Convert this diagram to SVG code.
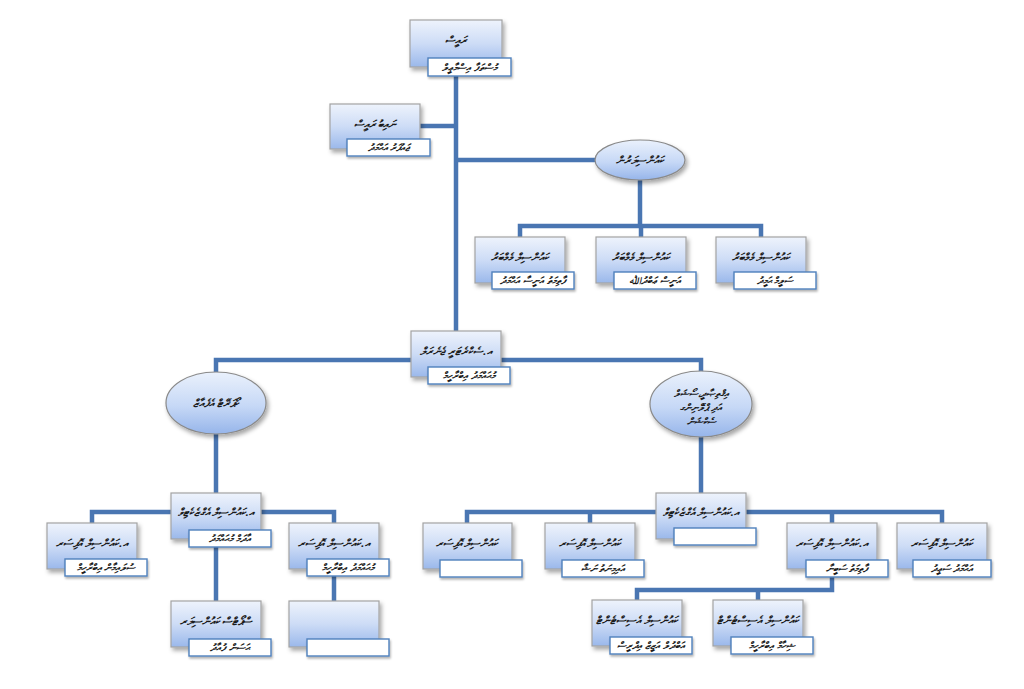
<svg xmlns="http://www.w3.org/2000/svg" width="1024" height="689" viewBox="0 0 1024 689">
<defs>
<linearGradient id="gb" x1="0" y1="0" x2="0" y2="1">
<stop offset="0" stop-color="#eef3fc"/>
<stop offset="0.5" stop-color="#cddcf6"/>
<stop offset="1" stop-color="#9ab8eb"/>
</linearGradient>
<linearGradient id="ge" x1="0" y1="0" x2="0" y2="1">
<stop offset="0" stop-color="#eaf1fc"/>
<stop offset="0.55" stop-color="#c6d8f6"/>
<stop offset="1" stop-color="#96b5ea"/>
</linearGradient>
<filter id="sh" x="-20%" y="-20%" width="150%" height="160%">
<feDropShadow dx="2" dy="3" stdDeviation="2" flood-color="#000" flood-opacity="0.35"/>
</filter>
<filter id="sh2" x="-20%" y="-30%" width="150%" height="180%">
<feDropShadow dx="1" dy="2" stdDeviation="1.2" flood-color="#000" flood-opacity="0.3"/>
</filter>
</defs>
<style>
.box{fill:url(#gb);stroke:#a3a3a3;stroke-width:1.2;filter:url(#sh)}
.ell{fill:url(#ge);stroke:#8a8a8a;stroke-width:1.2;filter:url(#sh)}
.sub{fill:#ffffff;stroke:#4f81bd;stroke-width:1.4;filter:url(#sh2)}
.t{font-family:"Noto Sans","DejaVu Sans",sans-serif;font-size:11px;font-style:italic;font-weight:bold;fill:#1a1a1a;text-anchor:middle}
.s{font-family:"Noto Sans","DejaVu Sans",sans-serif;font-size:10px;font-style:italic;font-weight:bold;fill:#1a1a1a;text-anchor:middle}
.e{font-size:10px}
.c{fill:none;stroke:#4a76b2;stroke-width:4.5;stroke-linejoin:miter}
</style>
<rect width="1024" height="689" fill="#ffffff"/>
<g id="connectors">
<path class="c" d="M456 68 V331"/>
<path class="c" d="M420 126 H456"/>
<path class="c" d="M456 160 H596"/>
<path class="c" d="M640 180 V226"/>
<path class="c" d="M520 237 V226 H761 V237"/>
<path class="c" d="M641 226 V237"/>
<path class="c" d="M216 372 V360 H701 V372"/>
<path class="c" d="M216 434 V493"/>
<path class="c" d="M701 436 V493"/>
<path class="c" d="M92 523 V512 H334 V523"/>
<path class="c" d="M216 539 V601"/>
<path class="c" d="M334 575 V601"/>
<path class="c" d="M467 523 V512 H942 V523"/>
<path class="c" d="M590 512 V523"/>
<path class="c" d="M832 512 V523"/>
<path class="c" d="M832 576 V590 H637 V600"/>
<path class="c" d="M758 590 V600"/>
</g>
<g id="n-president">
<rect class="box" x="410" y="20" width="92" height="47"/>
<text class="t" x="456" y="44">ރައީސް</text>
<rect class="sub" x="428" y="58" width="83" height="18"/>
<text class="s" x="469.5" y="71">މުސްތަފާ އިސްމާޢީލް</text>
</g>
<g id="n-vice">
<rect class="box" x="330" y="104" width="90" height="45"/>
<text class="t" x="375" y="128">ނައިބު ރައީސް</text>
<rect class="sub" x="347" y="139" width="83" height="17"/>
<text class="s" x="388.5" y="151">ޖައުފަރު އަޙްމަދު</text>
</g>
<g id="n-councillors">
<ellipse class="ell" cx="640" cy="160" rx="45" ry="20"/>
<text class="t" x="640" y="164">ކައުންސިލަރުން</text>
</g>
<g id="n-member1">
<rect class="box" x="475" y="237" width="90" height="46"/>
<text class="t" x="520" y="261">ކައުންސިލް މެމްބަރު</text>
<rect class="sub" x="492" y="272" width="82" height="17"/>
<text class="s" x="533" y="284">ފާތިމަތު އަނީސާ އަޙްމަދު</text>
</g>
<g id="n-member2">
<rect class="box" x="596" y="237" width="90" height="46"/>
<text class="t" x="641" y="261">ކައުންސިލް މެމްބަރު</text>
<rect class="sub" x="614" y="272" width="82" height="17"/>
<text class="s" x="655" y="284">އަނީސް ޢަބްދުﷲ</text>
</g>
<g id="n-member3">
<rect class="box" x="716" y="237" width="90" height="46"/>
<text class="t" x="761" y="261">ކައުންސިލް މެމްބަރު</text>
<rect class="sub" x="734" y="272" width="82" height="17"/>
<text class="s" x="775" y="284">ސަލީމް ޙަމީދު</text>
</g>
<g id="n-secretary">
<rect class="box" x="411" y="331" width="90" height="46"/>
<text class="t" x="456" y="355">އ.ސެކްރެޓަރީ ޖެނެރަލް</text>
<rect class="sub" x="428" y="367" width="82" height="17"/>
<text class="s" x="469" y="379">މުޙައްމަދު އިބްރާހީމް</text>
</g>
<g id="n-corporate">
<ellipse class="ell" cx="216" cy="403" rx="50" ry="31"/>
<text class="t" x="216" y="407">ކޯޕަރޭޓް އެފެއާޒް</text>
</g>
<g id="n-section">
<ellipse class="ell" cx="701" cy="404" rx="51" ry="33"/>
<text class="t e" x="701" y="397">އިޤްތިޞާދީ،ސޯޝަލް</text>
<text class="t e" x="701" y="411">އަދި ޕްލޭނިންގ</text>
<text class="t e" x="701" y="425">ސެކްޝަން</text>
</g>
<g id="n-l-exec">
<rect class="box" x="171" y="493" width="90" height="46"/>
<text class="t" x="216" y="516">އ.ކައުންސިލް އެގްޒެކެޓިވް</text>
<rect class="sub" x="189" y="530" width="82" height="17"/>
<text class="s" x="230" y="542">އާދަމް މުޙައްމަދު</text>
</g>
<g id="n-l-officer1">
<rect class="box" x="47" y="523" width="90" height="46"/>
<text class="t" x="92" y="547">އ.ކައުންސިލް އޮފިސަރ</text>
<rect class="sub" x="65" y="559" width="82" height="17"/>
<text class="s" x="106" y="571">ސުލައިމާން އިބްރާހީމް</text>
</g>
<g id="n-l-officer2">
<rect class="box" x="289" y="523" width="90" height="46"/>
<text class="t" x="334" y="547">އ.ކައުންސިލް އޮފިސަރ</text>
<rect class="sub" x="307" y="559" width="82" height="17"/>
<text class="s" x="348" y="571">މުޙައްމަދު އިބްރާހީމް</text>
</g>
<g id="n-l-sports">
<rect class="box" x="171" y="601" width="90" height="46"/>
<text class="t" x="216" y="625">ސްޕޯޓްސް ކައުންސިލަރ</text>
<rect class="sub" x="189" y="639" width="82" height="17"/>
<text class="s" x="230" y="651">ޙަސަން ފުއާދު</text>
</g>
<g id="n-l-empty">
<rect class="box" x="289" y="601" width="90" height="46"/>
<rect class="sub" x="307" y="639" width="82" height="17"/>
</g>
<g id="n-r-exec">
<rect class="box" x="656" y="493" width="90" height="46"/>
<text class="t" x="701" y="516">އ.ކައުންސިލް އެގްޒެކެޓިވް</text>
<rect class="sub" x="674" y="528" width="82" height="17"/>
</g>
<g id="n-r-officer1">
<rect class="box" x="423" y="523" width="89" height="46"/>
<text class="t" x="467" y="547">ކައުންސިލް އޮފިސަރ</text>
<rect class="sub" x="440" y="560" width="82" height="17"/>
</g>
<g id="n-r-officer2">
<rect class="box" x="545" y="523" width="90" height="46"/>
<text class="t" x="590" y="547">ކައުންސިލް އޮފިސަރ</text>
<rect class="sub" x="562" y="560" width="82" height="17"/>
<text class="s" x="603" y="572">އައިމިނަތު ނަޝާ</text>
</g>
<g id="n-r-officer3">
<rect class="box" x="787" y="523" width="90" height="46"/>
<text class="t" x="832" y="547">އ.ކައުންސިލް އޮފިސަރ</text>
<rect class="sub" x="806" y="560" width="82" height="17"/>
<text class="s" x="847" y="572">ފާތިމަތު ސަބީނާ</text>
</g>
<g id="n-r-officer4">
<rect class="box" x="897" y="523" width="90" height="46"/>
<text class="t" x="942" y="547">ކައުންސިލް އޮފިސަރ</text>
<rect class="sub" x="913" y="560" width="78" height="17"/>
<text class="s" x="952" y="572">އަޙްމަދު ސަޢީދު</text>
</g>
<g id="n-r-assistant1">
<rect class="box" x="592" y="600" width="90" height="46"/>
<text class="t" x="637" y="624">ކައުންސިލް އެސިސްޓެންޓް</text>
<rect class="sub" x="610" y="637" width="82" height="17"/>
<text class="s" x="651" y="649">އަބްދުލް އަޒީޒް އިދްރީސް</text>
</g>
<g id="n-r-assistant2">
<rect class="box" x="713" y="600" width="90" height="46"/>
<text class="t" x="758" y="624">ކައުންސިލް އެސިސްޓެންޓް</text>
<rect class="sub" x="731" y="637" width="82" height="17"/>
<text class="s" x="772" y="649">ޝިހާމް އިބްރާހީމް</text>
</g>
</svg>
